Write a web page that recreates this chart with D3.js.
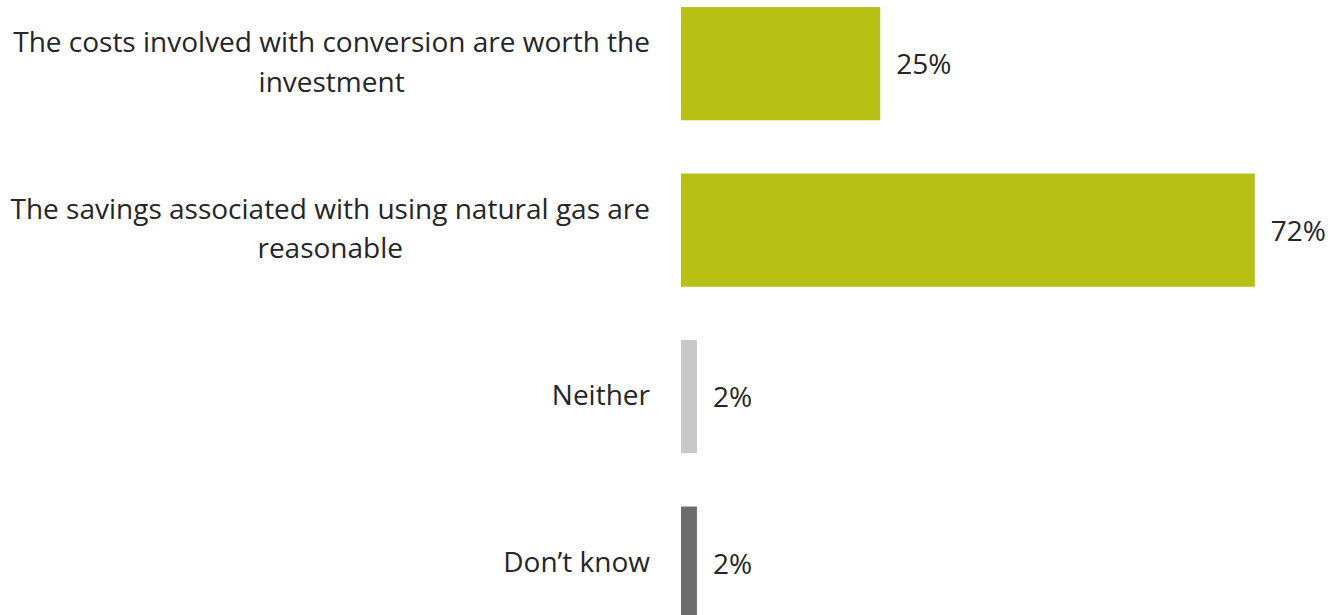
<!DOCTYPE html>
<html>
<head>
<meta charset="utf-8">
<script src="https://cdn.jsdelivr.net/npm/d3@7"></script>
<style>
  html, body { margin: 0; padding: 0; background: #ffffff; }
  svg { display: block; }
  text { font-family: "Open Sans", "DejaVu Sans", sans-serif; fill: #262626; }
</style>
</head>
<body>
<div id="chart"></div>
<script>
// Survey responses: which statement best describes natural gas conversion
const categories = [
  ["The costs involved with conversion are worth the", "investment"],
  ["The savings associated with using natural gas are", "reasonable"],
  ["Neither"],
  ["Don\u2019t know"]
];
const values = [25, 72, 2, 2];
const valueLabels = ["25%", "72%", "2%", "2%"];
const barColors = ["#b8c013", "#b8c013", "#c8c8c8", "#6d6d6d"];

const width = 1328, height = 615;
const fontSize = 28, lineHeight = 39.5;

const svg = d3.select("#chart").append("svg")
  .attr("width", width)
  .attr("height", height);

const ids = d3.range(categories.length);

const y = d3.scaleBand()
  .domain(ids)
  .range([-19.6, 646.4])
  .paddingInner(0.32)
  .paddingOuter(0.16);

const x = d3.scaleLinear()
  .domain([0, 100])
  .range([681, 681 + 797]);

// Bars
svg.selectAll("rect.bar")
  .data(ids)
  .join("rect")
  .attr("class", "bar")
  .attr("x", x(0))
  .attr("y", i => y(i))
  .attr("width", i => x(values[i]) - x(0))
  .attr("height", y.bandwidth())
  .attr("fill", i => barColors[i]);

// Value labels to the right of each bar
svg.selectAll("text.value")
  .data(ids)
  .join("text")
  .attr("class", "value")
  .attr("x", i => x(values[i]) + 16)
  .attr("y", i => y(i) + y.bandwidth() / 2 + 10.5)
  .attr("font-size", fontSize)
  .text(i => valueLabels[i]);

// Category labels: block right-aligned to the bars, lines centred within the block
const labelRight = 650;
const labels = svg.selectAll("g.label")
  .data(ids)
  .join("g")
  .attr("class", "label");

labels.each(function(i) {
  const g = d3.select(this);
  const lines = categories[i];
  const cy = y(i) + y.bandwidth() / 2;
  const texts = g.selectAll("text")
    .data(lines)
    .join("text")
    .attr("font-size", fontSize)
    .attr("text-anchor", "middle")
    .attr("y", (d, k) => cy + 8.5 + (k - (lines.length - 1) / 2) * lineHeight)
    .text(d => d);
  let maxW = 0;
  texts.each(function() { maxW = Math.max(maxW, this.getComputedTextLength()); });
  texts.attr("x", labelRight - maxW / 2);
});
</script>
</body>
</html>
